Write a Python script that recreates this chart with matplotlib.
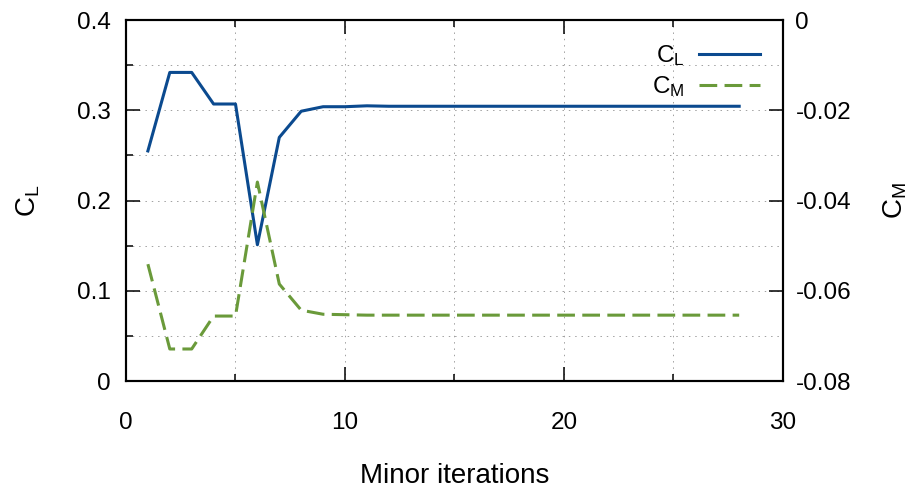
import matplotlib
matplotlib.use("Agg")
import matplotlib.pyplot as plt
from matplotlib.ticker import MultipleLocator, FuncFormatter

plt.rcParams['font.family'] = ['Liberation Sans', 'DejaVu Sans']
plt.rcParams['mathtext.fontset'] = 'custom'
plt.rcParams['mathtext.rm'] = 'Liberation Sans'
plt.rcParams['font.size'] = 17.5

# convergence history per minor iteration
iterations = list(range(1, 29))
cl = [0.255, 0.342, 0.342, 0.307, 0.307, 0.151, 0.270, 0.299, 0.304, 0.304,
      0.305] + [0.3045] * 17
cm = [-0.0541, -0.0729, -0.0729, -0.0656, -0.0656, -0.0359, -0.0585, -0.0643,
      -0.0652, -0.0653, -0.0654] + [-0.0654] * 17

blue = '#0b4a8f'
green = '#6a9a3a'

fig = plt.figure(figsize=(9.13, 4.9), dpi=100)
ax = fig.add_axes([0.138, 0.2224, 0.7196, 0.7366])
ax2 = ax.twinx()

l1, = ax.plot(iterations, cl, color=blue, lw=2.2, label=r'$\mathrm{C_L}$')
l2, = ax2.plot(iterations, cm, color=green, lw=2.2, dashes=(5.8, 2.4),
               label=r'$\mathrm{C_M}$')

ax.set_xlim(0, 30)
ax.set_ylim(0, 0.4)
ax2.set_ylim(-0.08, 0)

ax.xaxis.set_major_locator(MultipleLocator(10))
ax.xaxis.set_minor_locator(MultipleLocator(5))
ax.yaxis.set_major_locator(MultipleLocator(0.1))
ax.yaxis.set_minor_locator(MultipleLocator(0.05))
ax2.yaxis.set_major_locator(MultipleLocator(0.02))

fmt = FuncFormatter(lambda v, p: ('%g' % round(v, 3)))
ax.yaxis.set_major_formatter(fmt)
ax2.yaxis.set_major_formatter(fmt)

ax.grid(True, which='both', color='#a0a0a0', lw=0.7, linestyle=(0, (1.5, 5)))

ax.tick_params(which='both', direction='in', top=True, right=False, width=1.1)
ax.tick_params(which='major', length=10)
ax.tick_params(which='minor', length=5)
ax.tick_params(axis='y', which='major', pad=11)
ax.tick_params(axis='x', which='major', pad=22)
ax2.tick_params(which='major', direction='in', length=10, width=1.1, pad=9)

for a in (ax, ax2):
    for s in a.spines.values():
        s.set_linewidth(1.5)

ax.set_xlabel('Minor iterations', fontsize=20, labelpad=21)
ax.set_ylabel(r'$\mathrm{C_L}$', fontsize=20, labelpad=25)
ax2.set_ylabel(r'$\mathrm{C_M}$', fontsize=20, labelpad=22)

ax2.legend(handles=[l1, l2], loc='upper right', frameon=False,
           markerfirst=False, handlelength=2.5, handletextpad=0.6,
           labelspacing=0.25, borderaxespad=0.55)

fig.savefig('out.png', dpi=100)
